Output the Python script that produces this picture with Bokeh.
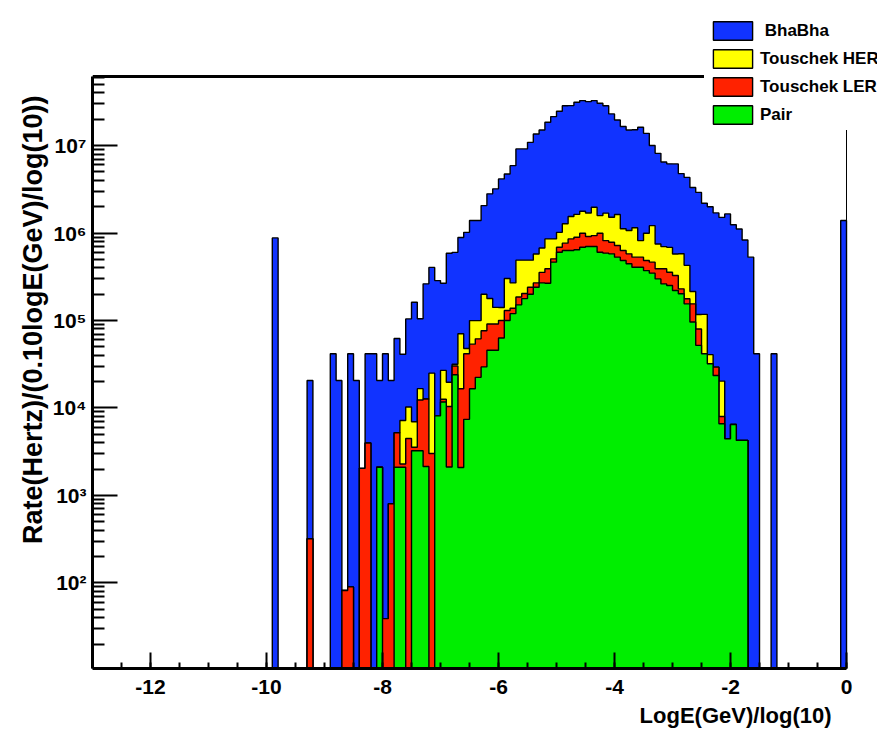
import numpy as np
from bokeh.plotting import figure
from bokeh.models import (FixedTicker, CustomJSTickFormatter, Legend, LegendItem,
                          Range1d, Title)
from bokeh.embed import file_html
from bokeh.resources import INLINE

# ---------------- data: 130 bins of 0.1 in LogE(GeV)/log(10), from -13 to 0 ----------------
x_lo, x_hi, n_bins = -13.0, 0.0, 130
y_lo, y_hi = 10.5, 6.17e7          # visible histogram box

pair = [
    0, 0, 0, 0, 0, 0, 0, 0, 0, 0,
    0, 0, 0, 0, 0, 0, 0, 0, 0, 0,
    0, 0, 0, 0, 0, 0, 0, 0, 0, 0,
    0, 0, 0, 0, 0, 0, 0, 0, 0, 0,
    0, 0, 0, 0, 0, 0, 0, 0, 0, 2.1e3,
    0, 0, 2.1e3, 2.1e3, 0, 3.24e3, 3.24e3, 2.14e3, 0, 8.13e3,
    1.17e4, 2.11e3, 2.4e4, 2.09e3, 7.41e3, 1.66e4, 2.24e4, 2.95e4, 4.57e4, 4.57e4,
    6.31e4, 1.0e5, 1.2e5, 1.51e5, 1.78e5, 2.0e5, 2.4e5, 2.69e5, 2.67e5, 4.65e5,
    6.04e5, 6.31e5, 6.31e5, 6.43e5, 6.89e5, 7.02e5, 7.02e5, 6.04e5, 5.89e5, 5.78e5,
    5.3e5, 4.85e5, 4.45e5, 4.07e5, 4.07e5, 3.72e5, 3.48e5, 2.99e5, 2.62e5, 2.51e5,
    2.2e5, 2.02e5, 1.55e5, 9.6e4, 5.2e4, 4.16e4, 3.2e4, 2.35e4, 6.6e3, 4.45e3,
    6.46e3, 4.26e3, 4.26e3, 0, 0, 0, 0, 0, 0, 0,
    0, 0, 0, 0, 0, 0, 0, 0, 0, 0,
]

touschek_ler = [
    0, 0, 0, 0, 0, 0, 0, 0, 0, 0,
    0, 0, 0, 0, 0, 0, 0, 0, 0, 0,
    0, 0, 0, 0, 0, 0, 0, 0, 0, 0,
    0, 0, 0, 0, 0, 0, 0, 320, 0, 0,
    0, 0, 0, 82, 90, 0, 2.04e3, 3.98e3, 0, 0,
    39, 804, 3.1e3, 190, 4.47e3, 310, 9.1e3, 1.05e4, 3.02e3, 0,
    900, 8.3e3, 6.2e3, 1.45e4, 3.43e4, 3.71e4, 3.93e4, 4.7e4, 4.55e4, 4.55e4,
    3.7e4, 3.0e4, 1.8e4, 3.5e4, 2.6e4, 4.0e4, 2.9e4, 8.6e4, 1.23e5, 4.2e4,
    8.5e4, 1.35e5, 2.26e5, 2.52e5, 3.06e5, 2.1e5, 2.33e5, 3.9e5, 2.3e5, 2.07e5,
    1.9e5, 1.46e5, 1.33e5, 1.23e5, 1.23e5, 1.13e5, 1.17e5, 9.1e4, 1.28e5, 1.05e5,
    1.07e5, 2.8e4, 2.2e4, 5.9e4, 2.8e4, 0, 0, 5.8e3, 1.4e3, 0,
    0, 0, 0, 0, 0, 0, 0, 0, 0, 0,
    0, 0, 0, 0, 0, 0, 0, 0, 0, 0,
]

touschek_her = [
    0, 0, 0, 0, 0, 0, 0, 0, 0, 0,
    0, 0, 0, 0, 0, 0, 0, 0, 0, 0,
    0, 0, 0, 0, 0, 0, 0, 0, 0, 0,
    0, 0, 0, 0, 0, 0, 0, 0, 0, 0,
    0, 0, 0, 0, 0, 0, 0, 0, 0, 0,
    0, 0, 0, 4.9e3, 5.8e3, 3.4e3, 4.3e3, 0, 2.2e4, 0,
    1.43e4, 9.3e3, 1.4e3, 5.4e4, 6.2e3, 4.6e4, 3.8e4, 1.23e5, 8.7e4, 5.0e4,
    4.1e4, 1.72e5, 1.31e5, 3.04e5, 2.86e5, 2.5e5, 3.06e5, 3.2e5, 4.67e5, 3.5e5,
    3.3e5, 5.1e5, 6.9e5, 7.4e5, 7.8e5, 7.8e5, 1.04e6, 5.9e5, 8.7e5, 7.3e5,
    9.1e5, 4.9e5, 4.9e5, 6.2e5, 2.9e5, 5.1e5, 7.5e5, 3.6e5, 3.1e5, 3.3e5,
    2.5e5, 3.5e5, 2.5e5, 6.0e4, 3.7e4, 7.6e4, 8.7e3, 0, 1.23e4, 0,
    0, 0, 0, 0, 0, 0, 0, 0, 0, 0,
    0, 0, 0, 0, 0, 0, 0, 0, 0, 0,
]

bhabha = [
    0, 0, 0, 0, 0, 0, 0, 0, 0, 0,
    0, 0, 0, 0, 0, 0, 0, 0, 0, 0,
    0, 0, 0, 0, 0, 0, 0, 0, 0, 0,
    0, 8.8e5, 0, 0, 0, 0, 0, 2.03e4, 0, 0,
    0, 4.17e4, 2.06e4, 0, 4.16e4, 2.06e4, 0, 3.77e4, 4.17e4, 1.85e4,
    4.17e4, 1.98e4, 5.7e4, 3.4e4, 9.4e4, 1.55e5, 8.8e4, 2.5e5, 3.8e5, 2.78e5,
    2.4e5, 5.67e5, 5.7e5, 8.2e5, 9.7e5, 1.29e6, 1.29e6, 1.86e6, 2.63e6, 3.06e6,
    4.02e6, 4.44e6, 5.63e6, 8.67e6, 8.67e6, 1.04e7, 1.3e7, 1.44e7, 1.76e7, 2.06e7,
    2.37e7, 2.73e7, 2.71e7, 2.97e7, 3.09e7, 3.01e7, 3.07e7, 2.89e7, 2.69e7, 2.15e7,
    1.8e7, 1.54e7, 1.4e7, 1.4e7, 1.54e7, 1.28e7, 8.8e6, 7.4e6, 5.8e6, 5.5e6,
    5.6e6, 4.2e6, 3.9e6, 3.1e6, 2.8e6, 2.07e6, 1.96e6, 1.67e6, 1.49e6, 1.65e6,
    1.24e6, 1.11e6, 8.3e5, 5.3e5, 4.16e4, 0, 0, 4.16e4, 0, 0,
    0, 0, 0, 0, 0, 0, 0, 0, 0, 1.39e6,
]

series_names = [" BhaBha", "Touschek HER", "Touschek LER", "Pair"]
series_colors = ["#1133ff", "#ffff00", "#ff2200", "#00ee00"]

y_major = [1e2, 1e3, 1e4, 1e5, 1e6, 1e7]
x_major = [-12, -10, -8, -6, -4, -2, 0]

# ---------------- stacking (THStack: Pair at bottom, then LER, HER, BhaBha) ----------------
edges = np.linspace(x_lo, x_hi, n_bins + 1)
lvl_pair = np.array(pair, dtype=float)
lvl_ler = lvl_pair + np.array(touschek_ler, dtype=float)
lvl_her = lvl_ler + np.array(touschek_her, dtype=float)
lvl_all = lvl_her + np.array(bhabha, dtype=float)

FLOOR = 1.0  # below the visible range on the log axis


def step_outline(levels):
    lv = np.where(levels > 0, levels, FLOOR)
    xs = np.repeat(edges, 2)[1:-1]
    ys = np.repeat(lv, 2)
    xs = np.concatenate([[edges[0]], xs, [edges[-1]]])
    ys = np.concatenate([[FLOOR], ys, [FLOOR]])
    return xs, ys


# the frame reaches the top and right edges of the canvas so the legend is not clipped;
# the histogram box (x -13..0, y 10.5..6.17e7) is drawn by bounded axes and frame lines
W, H = 877, 732
frame_left, frame_bottom = 92, 64
px_per_unit = 58.03
px_per_decade = 87.5
x_end = x_hi + (W - 846) / px_per_unit
y_end = 10 ** (np.log10(y_hi) + 76 / px_per_decade)

p = figure(width=W, height=H, title=None,
           x_range=Range1d(x_lo, x_end), y_range=Range1d(y_lo, y_end),
           y_axis_type="log", output_backend="svg", toolbar_location=None,
           min_border_left=frame_left, min_border_right=0, min_border_top=0,
           min_border_bottom=frame_bottom,
           background_fill_color="white", border_fill_color="white")
p.xgrid.visible = False
p.ygrid.visible = False
p.outline_line_alpha = 0

renderers = []
for lv, col in zip([lvl_all, lvl_her, lvl_ler, lvl_pair], series_colors):
    xs, ys = step_outline(lv)
    r = p.patch(xs, ys, fill_color=col, line_color="black", line_width=1.4)
    renderers.append(r)

# top (thick) and right (thin) edges of the histogram box
p.segment(x0=[x_lo], y0=[y_hi], x1=[x_hi], y1=[y_hi], line_color="black", line_width=3)
p.segment(x0=[x_hi], y0=[y_lo], x1=[x_hi], y1=[y_hi], line_color="black", line_width=1)

FONT = "Liberation Sans"

# x axis
xa = p.xaxis[0]
xa.bounds = (x_lo, x_hi)
xa.ticker = FixedTicker(ticks=x_major, minor_ticks=list(np.arange(-13.0, 0.01, 0.5)))
xa.formatter = CustomJSTickFormatter(code="return tick.toFixed(0);")
xa.axis_line_width = 3
xa.major_tick_in = 16
xa.major_tick_out = 0
xa.minor_tick_in = 6
xa.minor_tick_out = 0
xa.major_tick_line_width = 2
xa.minor_tick_line_width = 2
xa.major_label_standoff = 11
xa.major_label_text_font = FONT
xa.major_label_text_font_style = "bold"
xa.major_label_text_font_size = "21px"
xa.major_label_text_color = "black"

# y axis
ya = p.yaxis[0]
ya.bounds = (y_lo, y_hi)
minor_y = [k * 10.0 ** d for d in range(1, 8) for k in range(2, 10) if 15 < k * 10.0 ** d < y_hi]
ya.ticker = FixedTicker(ticks=y_major, minor_ticks=minor_y)
ya.formatter = CustomJSTickFormatter(code="""
const sup = {'0':'\u2070','1':'\u00b9','2':'\u00b2','3':'\u00b3','4':'\u2074',
             '5':'\u2075','6':'\u2076','7':'\u2077','8':'\u2078','9':'\u2079','-':'\u207b'};
const e = Math.round(Math.log10(tick));
return '10' + String(e).split('').map(c => sup[c]).join('');
""")
ya.axis_line_width = 3
ya.major_tick_in = 25
ya.major_tick_out = 0
ya.minor_tick_in = 12
ya.minor_tick_out = 0
ya.major_tick_line_width = 2
ya.minor_tick_line_width = 2
ya.major_label_standoff = 6
ya.major_label_text_font = FONT
ya.major_label_text_font_style = "bold"
ya.major_label_text_font_size = "21px"
ya.major_label_text_color = "black"

# axis titles (ROOT style: aligned to the end of the axis)
xt = Title(text="LogE(GeV)/log(10)", align="right", offset=46, standoff=8,
           text_font=FONT, text_font_style="bold", text_font_size="22px", text_color="black")
p.add_layout(xt, "below")
yt = Title(text="Rate(Hertz)/(0.10logE(GeV)/log(10))", align="right", offset=95, standoff=4,
           text_font=FONT, text_font_style="bold", text_font_size="27px", text_color="black")
p.add_layout(yt, "left")

legend = Legend(items=[LegendItem(label=n, renderers=[r]) for n, r in zip(series_names, renderers)],
                location=(612, 538))
legend.glyph_width = 49
legend.glyph_height = 23
legend.label_height = 20
legend.spacing = 5
legend.padding = 4
legend.margin = 0
legend.label_standoff = 3
legend.label_text_font = FONT
legend.label_text_font_style = "bold"
legend.label_text_font_size = "17px"
legend.label_text_color = "black"
legend.border_line_alpha = 0
legend.background_fill_color = "white"
legend.background_fill_alpha = 1.0
p.add_layout(legend)

open("out.html", "w").write(file_html(p, INLINE))
